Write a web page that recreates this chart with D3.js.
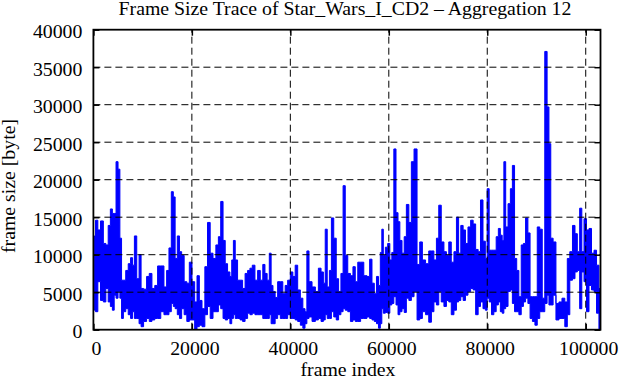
<!DOCTYPE html>
<html>
<head>
<meta charset="utf-8">
<script src="https://cdn.jsdelivr.net/npm/d3@7"></script>
<style>
  body { margin: 0; background: #fff; }
  svg text { font-family: "Liberation Serif", "Times New Roman", serif; font-size: 18px; fill: #000; }
</style>
</head>
<body>
<svg id="chart" width="619" height="380"></svg>
<script>
// trace: for each frame index, the top and bottom of the swing (in kbyte)
var frameIndex = [200, 664, 1139, 1750, 2292, 2767, 3242, 3648, 4055, 4395, 4801, 5208, 5547, 5887, 6293, 6836, 7311, 7786, 8125, 8532,
  9074, 9481, 9888, 10498, 11109, 11583, 12194, 12736, 13347, 14025, 14635, 15110, 15585, 16060, 16399, 16806, 17280, 17687, 18162, 18705,
  19247, 19722, 20332, 20807, 21282, 21756, 22367, 22909, 23452, 23993, 24604, 25147, 25622, 26097, 26572, 26979, 27521, 27928, 28267, 28606,
  29013, 29556, 30031, 30573, 31048, 31591, 31997, 32540, 33083, 33625, 34168, 34642, 35049, 35524, 35931, 36270, 36677, 37152, 37694, 38237,
  38712, 39186, 39729, 40271, 40746, 41221, 41764, 42306, 42781, 43188, 43527, 44069, 44748, 45426, 45968, 46511, 46918, 47257, 47732, 48139,
  48546, 49088, 49563, 50038, 50512, 50919, 51394, 51937, 52479, 52954, 53429, 53971, 54582, 55260, 55870, 56345, 56820, 57295, 57701, 58108,
  58447, 58719, 59058, 59533, 60007, 60414, 60821, 61228, 61703, 62042, 62449, 62924, 63330, 63805, 64348, 64823, 65433, 66043, 66518, 67128,
  67807, 68417, 68892, 69434, 69909, 70384, 70926, 71469, 71944, 72418, 72961, 73503, 73978, 74385, 74860, 75335, 75810, 76352, 76895, 77370,
  77912, 78387, 78862, 79404, 79811, 80150, 80625, 81100, 81575, 82049, 82456, 82863, 83202, 83541, 83948, 84491, 84898, 85304, 85779, 86186,
  86661, 87136, 87543, 88017, 88492, 88899, 89442, 89916, 90391, 90934, 91408, 91951, 92358, 92697, 93104, 93646, 94257, 94867, 95478, 96020,
  96495, 97038, 97580, 98055, 98530, 99004, 99411, 99886, 100429, 100903, 101446, 101921, 102463, 102900]

var peakK = [12.5, 14.6, 13.3, 14.5, 11.5, 11.3, 13.9, 16.1, 15.5, 15.5, 22.4, 21.4, 12.2, 6.6, 6.6, 7.9, 8.8, 9.6, 8.6, 12.5,
  6.8, 10.0, 5.5, 5.4, 7.1, 7.5, 5.5, 5.9, 8.5, 8.5, 5.7, 7.9, 10.9, 18.4, 17.7, 9.5, 12.5, 10.4, 9.9, 6.4,
  6.2, 9.0, 6.4, 3.7, 7.2, 3.9, 2.8, 8.4, 14.3, 10.2, 9.5, 11.3, 12.4, 17.1, 11.9, 8.8, 7.7, 7.1, 9.3, 11.9,
  9.3, 6.6, 6.6, 5.5, 7.5, 7.9, 8.2, 8.6, 6.6, 7.9, 6.6, 8.7, 7.5, 6.6, 10.2, 5.9, 5.1, 4.3, 6.4, 6.4,
  4.8, 5.9, 6.6, 7.7, 7.1, 8.6, 5.3, 4.2, 2.8, 2.4, 10.5, 6.4, 5.7, 5.1, 8.2, 7.7, 6.2, 13.4, 5.7, 7.9,
  14.9, 12.2, 6.8, 5.1, 7.5, 19.2, 9.9, 7.5, 7.2, 8.4, 6.4, 9.0, 9.0, 7.2, 7.1, 9.4, 6.2, 4.8, 7.1, 5.9,
  10.3, 13.4, 9.9, 11.0, 11.5, 9.3, 10.3, 24.1, 15.6, 14.4, 11.9, 10.2, 12.4, 16.7, 14.3, 22.4, 24.1, 8.7, 11.7, 9.3,
  8.8, 10.5, 10.5, 9.3, 12.2, 16.6, 11.7, 10.4, 9.9, 11.7, 9.0, 10.4, 15.0, 10.2, 13.9, 13.3, 11.5, 13.7, 14.6, 14.1,
  10.7, 10.4, 17.3, 11.8, 9.5, 18.8, 10.6, 10.6, 10.6, 12.4, 13.5, 12.6, 11.9, 22.4, 13.7, 16.8, 18.8, 21.9, 9.5, 7.9,
  4.4, 11.3, 11.5, 14.9, 12.9, 4.4, 4.4, 4.4, 13.7, 13.4, 4.2, 37.1, 29.7, 24.8, 12.2, 11.7, 3.5, 3.7, 4.2, 3.7,
  9.5, 10.4, 13.9, 12.8, 10.4, 16.2, 10.4, 14.8, 13.3, 13.5, 10.2, 10.6, 8.6, 5.5]

var troughK = [2.6, 2.4, 6.4, 3.9, 3.7, 5.5, 3.7, 3.1, 2.6, 4.6, 4.2, 5.1, 4.2, 1.5, 2.4, 2.8, 2.0, 1.5, 2.4, 1.5,
  1.5, 0.8, 0.4, 1.1, 1.5, 1.1, 1.3, 1.5, 1.5, 2.4, 2.0, 2.0, 2.4, 3.5, 3.1, 2.8, 2.0, 1.5, 2.8, 2.0,
  1.1, 1.3, 1.3, 0.0, 0.4, 0.6, 0.4, 2.0, 3.1, 1.5, 2.4, 2.4, 3.3, 2.8, 1.5, 1.3, 1.5, 0.8, 1.5, 2.0,
  1.5, 1.5, 1.3, 1.1, 1.5, 2.2, 2.0, 2.2, 2.0, 2.0, 2.0, 1.5, 1.5, 1.5, 2.0, 0.8, 0.8, 1.5, 2.0, 1.5,
  1.5, 1.5, 2.0, 1.5, 1.5, 1.3, 1.1, 0.6, 0.2, 0.8, 1.5, 1.7, 1.1, 1.3, 1.5, 1.1, 1.3, 2.0, 1.5, 1.5,
  2.4, 1.7, 1.3, 2.0, 2.4, 2.8, 2.6, 2.4, 1.1, 1.3, 1.1, 1.1, 1.5, 1.5, 1.7, 1.5, 1.3, 1.1, 0.8, 0.2,
  0.8, 2.8, 2.2, 2.3, 2.2, 3.3, 3.5, 4.4, 3.3, 2.0, 2.4, 2.8, 2.3, 4.2, 3.9, 4.4, 5.1, 1.3, 1.5, 2.4,
  2.0, 1.0, 2.4, 3.7, 3.3, 5.1, 3.7, 3.1, 3.9, 3.7, 2.0, 2.6, 3.7, 3.9, 4.4, 3.9, 4.6, 5.1, 5.5, 5.3,
  2.0, 3.1, 3.7, 2.8, 2.6, 4.2, 3.7, 2.0, 2.4, 3.3, 3.7, 2.4, 2.2, 2.8, 3.1, 5.1, 5.3, 3.5, 2.4, 2.4,
  2.0, 3.1, 3.7, 4.2, 3.5, 1.5, 1.1, 0.6, 1.5, 2.4, 2.4, 3.5, 4.6, 3.3, 3.3, 4.6, 1.3, 1.5, 1.5, 0.4,
  2.0, 6.6, 6.8, 7.7, 7.9, 2.8, 7.7, 6.4, 2.4, 5.9, 5.3, 5.1, 2.2, 0.1]

var xTicks = [0, 20000, 40000, 60000, 80000, 100000]
var yTicks = [0, 5000, 10000, 15000, 20000, 25000, 30000, 35000, 40000]

var svg = d3.select("#chart"),
    margin = { top: 29.7, left: 93.4, bottom: 50.3, right: 18.5 },
    width = 619,
    height = 380,
    stretch = "scale(1.1,1)"   // lettering in the original is a bit wide

var x = d3.scaleLinear()
    .domain([0, 103000])
    .range([margin.left, width - margin.right])

var y = d3.scaleLinear()
    .domain([0, 40000])
    .range([height - margin.bottom, margin.top])

svg.append("clipPath").attr("id", "plot-clip")
    .append("rect")
    .attr("x", x(0)).attr("y", y(40000))
    .attr("width", x(103000) - x(0)).attr("height", y(0) - y(40000))

var n = Math.min(frameIndex.length, peakK.length, troughK.length)
var swings = d3.range(n).map(i => ({ f: frameIndex[i], lo: troughK[i] * 1000, hi: peakK[i] * 1000 }))

// the dense trace shows as a solid band between the swing bottoms and tops
var band = d3.area()
    .curve(d3.curveStep)
    .x(d => x(d.f))
    .y0(d => y(d.lo))
    .y1(d => y(d.hi))

svg.append("path")
    .datum(swings)
    .attr("clip-path", "url(#plot-clip)")
    .attr("fill", "#0000ff")
    .attr("stroke", "#0000ff")
    .attr("stroke-width", 1)
    .attr("d", band)

// grid (dashed, on top like gnuplot)
svg.append("g").selectAll("line")
    .data(yTicks.slice(1, -1))
    .enter().append("line")
    .attr("x1", x(0)).attr("x2", x(103000))
    .attr("y1", d => y(d)).attr("y2", d => y(d))
    .attr("stroke", "#000").attr("stroke-width", 1).attr("stroke-dasharray", "7,4")

svg.append("g").selectAll("line")
    .data(xTicks.slice(1))
    .enter().append("line")
    .attr("x1", d => x(d)).attr("x2", d => x(d))
    .attr("y1", y(0)).attr("y2", y(40000))
    .attr("stroke", "#000").attr("stroke-width", 1).attr("stroke-dasharray", "7,4")

// axes, ticks pointing inward
var yAxis = svg.append("g")
    .attr("class", "y-axis")
    .attr("transform", `translate(${margin.left},0)`)
    .call(d3.axisLeft(y).tickValues(yTicks).tickSize(-6).tickFormat(d3.format("d")))

yAxis.selectAll("text")
    .attr("x", 0).attr("dy", 0)
    .attr("transform", "translate(-11,8) " + stretch)

var xAxis = svg.append("g")
    .attr("class", "x-axis")
    .attr("transform", `translate(0,${y(0)})`)
    .call(d3.axisBottom(x).tickValues(xTicks).tickSize(-6).tickFormat(d3.format("d")))

xAxis.selectAll("text")
    .attr("y", 0).attr("dy", 0)
    .attr("transform", "translate(2.5,25.3) " + stretch)

svg.append("g")
    .attr("transform", `translate(${x(103000)},0)`)
    .call(d3.axisRight(y).tickValues(yTicks).tickSize(-6).tickFormat(""))

svg.append("g")
    .attr("transform", `translate(0,${y(40000)})`)
    .call(d3.axisTop(x).tickValues(xTicks).tickSize(-6).tickFormat(""))

svg.selectAll(".domain").remove()
svg.selectAll("g[font-family]").attr("font-family", null).attr("font-size", null)
svg.selectAll(".tick line").attr("stroke", "#000").attr("stroke-width", 1.5)
svg.selectAll(".tick text")
    .style("font-family", "'Liberation Serif', 'Times New Roman', serif")
    .style("font-size", "18px")

// frame
svg.append("rect")
    .attr("x", x(0)).attr("y", y(40000))
    .attr("width", x(103000) - x(0)).attr("height", y(0) - y(40000))
    .attr("fill", "none").attr("stroke", "#000").attr("stroke-width", 1.8)

// labels
svg.append("text")
    .attr("text-anchor", "middle")
    .attr("transform", "translate(345,15) " + stretch)
    .text("Frame Size Trace of Star_Wars_I_CD2 \u2013 Aggregation 12")

svg.append("text")
    .attr("text-anchor", "middle")
    .attr("transform", "translate(348,376) " + stretch)
    .text("frame index")

svg.append("text")
    .attr("text-anchor", "middle")
    .attr("transform", "translate(15,186) rotate(-90) " + stretch)
    .text("frame size [byte]")
</script>
</body>
</html>
